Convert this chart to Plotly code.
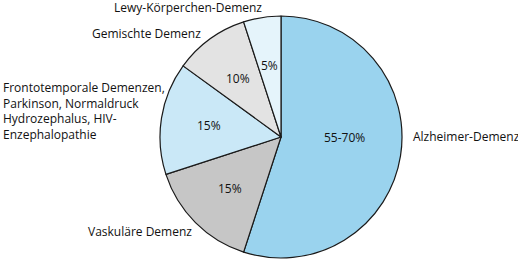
import math
import plotly.graph_objects as go

categories = ["Alzheimer-Demenz", "Vaskuläre Demenz",
              "Frontotemporale Demenzen, Parkinson, Normaldruck Hydrozephalus, HIV-Enzephalopathie",
              "Gemischte Demenz", "Lewy-Körperchen-Demenz"]
values = [55, 15, 15, 10, 5]
value_labels = ["55-70%", "15%", "15%", "10%", "5%"]
colors = ["#9ad3ee", "#c6c6c6", "#cae8f7", "#e3e3e3", "#e5f4fb"]

# outside label text as wrapped in the original
label_texts = ["Alzheimer-Demenz", "Vaskuläre Demenz",
               "Frontotemporale Demenzen,<br>Parkinson, Normaldruck<br>Hydrozephalus, HIV-<br>Enzephalopathie",
               "Gemischte Demenz", "Lewy-Körperchen-Demenz"]

W, H = 518, 260
FONT = "Open Sans"
TXT = "#111111"

# pie geometry (pixels)
CX, CY, R = 281, 137, 121

fig = go.Figure(go.Pie(
    labels=categories,
    values=values,
    text=value_labels,
    textinfo="none",
    sort=False,
    direction="clockwise",
    rotation=0,
    marker=dict(colors=colors, line=dict(color="#1a1a1a", width=1.2)),
    domain=dict(x=[(CX - R) / W, (CX + R) / W], y=[(H - CY - R) / H, (H - CY + R) / H]),
    showlegend=False,
    hoverinfo="label+text",
))

annotations = []
# value labels inside slices, placed along each slice's bisector
total = sum(values)
cum = 0
for v, t in zip(values, value_labels):
    mid = (cum + v / 2) / total * 2 * math.pi
    cum += v
    rf = 0.6 if v < 30 else 0.53
    px = CX + rf * R * math.sin(mid)
    py = CY - rf * R * math.cos(mid)
    if v >= 30:
        py = CY
    annotations.append(dict(
        x=px / W, y=1 - py / H, xref="paper", yref="paper", text=t,
        showarrow=False, xanchor="center", yanchor="middle",
        font=dict(family=FONT, size=12, color=TXT),
    ))

# category label anchors in pixels (x_left, y_center)
anchors = [(411, 136), (86, 231), (1, 111), (90, 34), (112, 7)]
for (x0, y0), txt in zip(anchors, label_texts):
    annotations.append(dict(
        x=x0 / W, y=1 - y0 / H, xref="paper", yref="paper",
        text=txt, showarrow=False, xanchor="left", yanchor="middle", align="left",
        font=dict(family=FONT, size=12, color=TXT),
    ))

fig.update_layout(
    width=W, height=H,
    margin=dict(l=0, r=0, t=0, b=0),
    paper_bgcolor="white", plot_bgcolor="white",
    annotations=annotations,
)

fig.write_html("out.html", config={"displayModeBar": False},
               post_script="document.body.style.margin='0';")
